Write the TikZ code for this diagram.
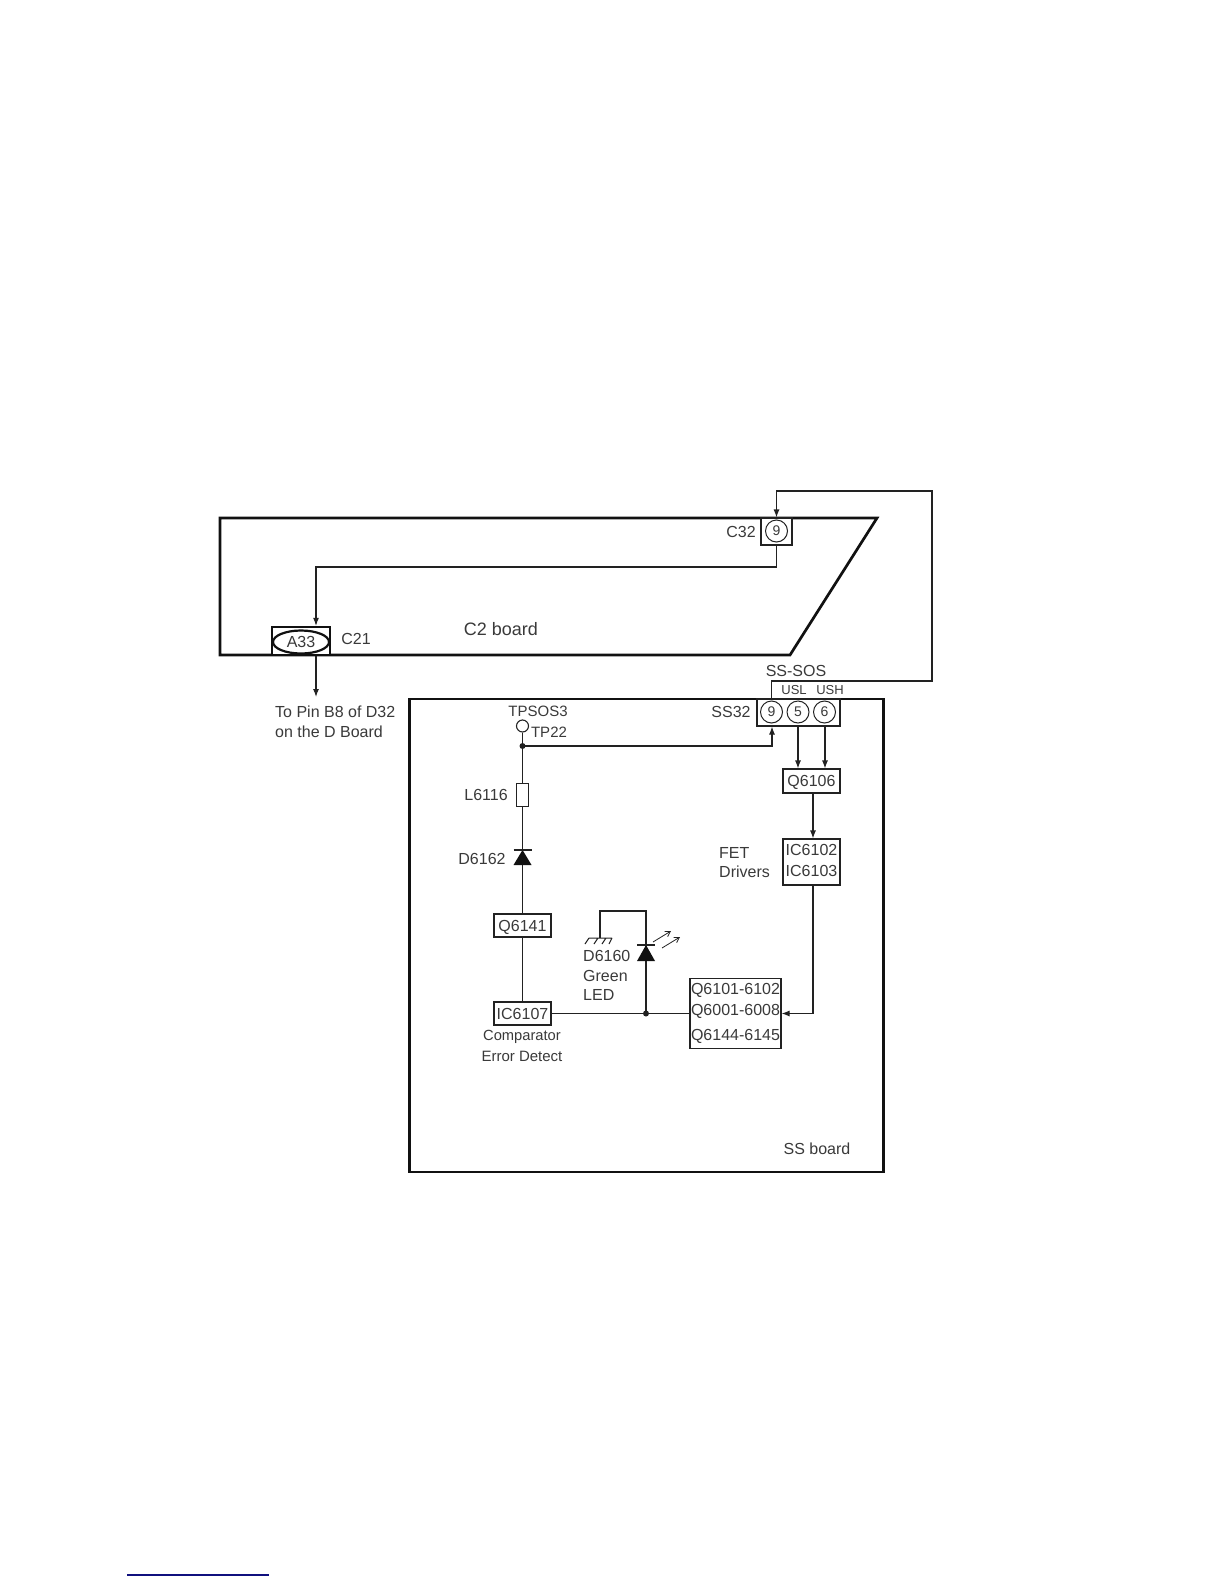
\documentclass[tikz,border=0pt]{standalone}
\usepackage{fontspec}
\setmainfont{Liberation Sans}
\usetikzlibrary{arrows.meta,shapes.geometric}
\definecolor{ink}{HTML}{222222}
\definecolor{bold}{HTML}{111111}
\definecolor{txt}{HTML}{3A3A3A}
\definecolor{navy}{HTML}{10107E}
\tikzset{
  x=1pt,y=-1pt,
  wire/.style={draw=ink,line width=1.1pt},
  arr/.style={wire,-{Latex[length=8pt,width=6pt]}},
  thickline/.style={draw=bold,line width=2.7pt},
  lbl/.style={inner sep=0pt,text=txt,font=\fontsize{16}{20}\selectfont},
  lblsm/.style={lbl,font=\fontsize{14.7}{18}\selectfont},
  lbltiny/.style={lbl,font=\fontsize{13}{16}\selectfont},
  lblbig/.style={lbl,font=\fontsize{18}{22}\selectfont},
  boxn/.style={draw=ink,line width=1.1pt,fill=white,inner sep=0pt,text=txt,text height=11.5pt,text depth=0pt,font=\fontsize{16}{21}\selectfont},
  boxm/.style={draw=ink,line width=1.1pt,fill=white,inner sep=0pt,text=txt,align=center,font=\fontsize{16}{21}\selectfont},
  pinc/.style={circle,draw=ink,line width=1pt,fill=white,minimum size=22pt,inner sep=0pt,text=txt,font=\fontsize{14}{16}\selectfont},
  dot/.style={circle,fill=ink,inner sep=0pt,minimum size=6pt},
}
\begin{document}
\begin{tikzpicture}
\useasboundingbox (0,0) rectangle (1224,1584);
\fill[white] (0,0) rectangle (1224,1584);
% boards
\draw[thickline,line join=miter] (220,518) -- (877,518) -- (790,655) -- (220,655) -- cycle;
\node[draw=bold,line width=2.7pt,minimum width=474pt,minimum height=473pt,inner sep=0pt] (ssboard) at (646.5,935.5) {};
% C2 parts
\node[boxm,draw=bold,line width=2.4pt,minimum width=58pt,minimum height=28pt] (c21) at (301,641) {};
\node[ellipse,draw=bold,line width=2.2pt,minimum width=56pt,minimum height=23pt,inner sep=0pt,text=txt,font=\fontsize{16}{20}\selectfont] (a33) at (301,642) {A33};
\node[boxm,minimum width=31pt,minimum height=27pt] (c32) at (776.5,531.5) {};
\node[pinc] (c9) at (776.5,531) {9};
% SS32
\node[boxm,minimum width=83pt,minimum height=27pt] (ss32) at (798.5,712.5) {};
\node[pinc] (s9) at (771.5,712) {9};
\node[pinc] (s5) at (798,712) {5};
\node[pinc] (s6) at (824.5,712) {6};
% boxes
\node[boxn,minimum width=57pt,minimum height=24pt] (q6106) at (811.5,781) {Q6106};
\node[boxm,minimum width=57pt,minimum height=46pt] (ic6102) at (811.5,862) {};
\node[lbl,align=center,font=\fontsize{16}{21}\selectfont] (lic) at (811.5,860.5) {IC6102\\IC6103};
\node[boxm,minimum width=91pt,minimum height=70pt] (qbig) at (735.5,1013.5) {Q6101-6102\\Q6001-6008\\[4pt]Q6144-6145};
\node[boxn,minimum width=57pt,minimum height=23pt] (ic6107) at (522.5,1013.5) {IC6107};
\node[boxn,minimum width=57pt,minimum height=23pt] (q6141) at (522.5,925.5) {Q6141};
\node[boxm,minimum width=12pt,minimum height=23pt] (l6116) at (522.5,795) {};
\node[circle,draw=ink,line width=1.1pt,fill=white,minimum size=12pt,inner sep=0pt] (tp22) at (522.5,726) {};
\node[dot] (j1) at (522.5,746) {};
\node[dot] (j2) at (646,1013.5) {};
% diodes (as coordinates)
\coordinate (d1) at (522.5,857);
\coordinate (d2) at (646,953);
\coordinate (gnd) at (600,938);
\coordinate (ledtop) at (646,911);
\coordinate (bus) at (316,567);
\coordinate (toD) at (316,697);
\coordinate (loopT) at (932,491);
\coordinate (loopB) at (932,681);
\coordinate (drv) at (813,885);
\coordinate (fbk) at (772,746);
\coordinate (usl) at (798,726);
\coordinate (ush) at (825,726);
% connectors
\draw[arr] (c32.south) |- (bus) -- (c21.north -| bus);
\draw[arr] (c21.south -| bus) -- (toD);
\draw[arr] (ss32.north -| s9) -- (s9 |- loopB) -- (loopB) -- (loopT) -- (c32 |- loopT) -- (c32.north);
\draw[arr] (j1.center) -- (fbk) -- (ss32.south -| fbk);
\draw[arr] (usl) -- (q6106.north -| usl);
\draw[arr] (ush) -- (q6106.north -| ush);
\draw[arr] (q6106.south -| drv) -- (ic6102.north -| drv);
\draw[arr] (ic6102.south -| drv) -- (drv |- qbig) -- (qbig.east);
\draw[wire] (tp22.south) -- (j1.center);
\draw[wire] (j1.center) -- (l6116.north);
\draw[wire] (l6116.south) -- (q6141.north);
\draw[wire] (q6141.south) -- (ic6107.north);
\draw[wire] (ic6107.east) -- (qbig.west);
\draw[wire] (j2.center) -- (ledtop) -- (gnd |- ledtop) -- (gnd);
% D6162
\fill[bold] (d1)++(0,-7) -- ++(9,15) -- ++(-18,0) -- cycle;
\draw[wire] (d1)++(-9,-7) -- ++(18,0);
% D6160
\fill[bold] (d2)++(0,-8) -- ++(9,16) -- ++(-18,0) -- cycle;
\draw[wire] (d2)++(-9,-8) -- ++(18,0);
% ground
\draw[draw=ink,line width=1pt] (589,938) -- (612,938)
  (589,938) -- (585,944) (598,938) -- (594,944) (606,938) -- (602,944) (612,938) -- (609,944);
% light rays
\draw[draw=ink,line width=.8pt,-{Straight Barb[length=5pt,width=6pt]}] (653,942) -- (671,931);
\draw[draw=ink,line width=.8pt,-{Straight Barb[length=5pt,width=6pt]}] (662,948) -- (680,937);
% labels
\node[lblbig] (lc2) at (501,629) {C2 board};
\node[lbl] (lc21) at (356,639) {C21};
\node[lbl,align=left,anchor=west,font=\fontsize{16}{20}\selectfont] (lpin) at (275,722) {To Pin B8 of D32\\on the D Board};
\node[lblsm,font=\fontsize{15}{18}\selectfont] (ltps) at (538,711) {TPSOS3};
\node[lblsm,font=\fontsize{15}{18}\selectfont] (ltp) at (549,732) {TP22};
\node[lbl] (lc32) at (741,532) {C32};
\node[lbl] (lsos) at (796,671) {SS-SOS};
\node[lbltiny] (lusl) at (794,690) {USL};
\node[lbltiny] (lush) at (830,690) {USH};
\node[lbl] (lss32) at (731,712) {SS32};
\node[lbl] (ll) at (486,795) {L6116};
\node[lbl] (ld62) at (482,859) {D6162};
\node[lbl,align=left,anchor=west,font=\fontsize{16}{19.5}\selectfont] (ld60) at (583,975.5) {D6160\\Green\\LED};
\node[lblsm] (lcmp) at (522,1036.5) {Comparator};
\node[lblsm,font=\fontsize{15}{18}\selectfont] (lerr) at (522,1056.5) {Error Detect};
\node[lbl,align=left,anchor=west,font=\fontsize{16}{19.5}\selectfont] (lfet) at (719,862.5) {FET\\Drivers};
\node[lbl] (lssb) at (817,1149) {SS board};
% page rule
\draw[draw=navy,line width=1.4pt] (127,1575) -- (269,1575);
\end{tikzpicture}
\end{document}
